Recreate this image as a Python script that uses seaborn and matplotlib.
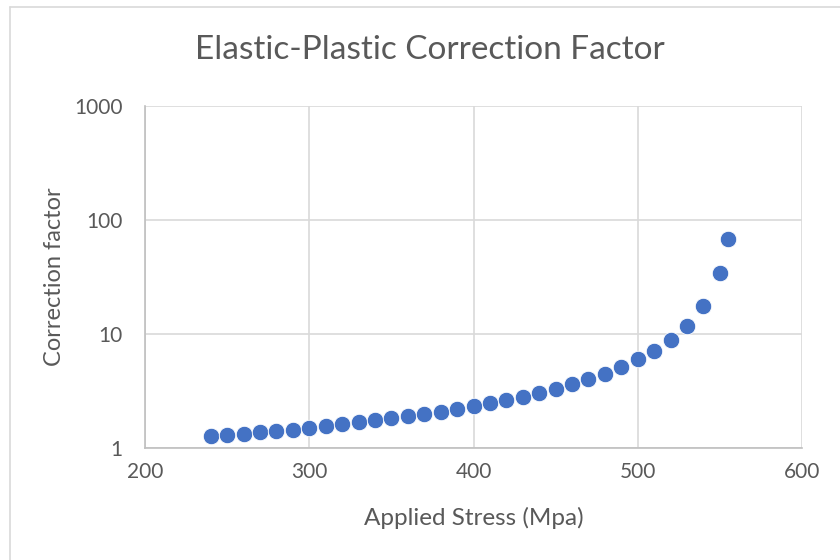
import matplotlib
matplotlib.use("Agg")
import matplotlib.pyplot as plt
import seaborn as sns
import pandas as pd
from matplotlib.lines import Line2D

stress = [240, 250, 260, 270, 280, 290, 300, 310, 320, 330, 340, 350, 360, 370,
          380, 390, 400, 410, 420, 430, 440, 450, 460, 470, 480, 490, 500, 510,
          520, 530, 540, 550, 555]
factor = [1.27, 1.30, 1.33, 1.38, 1.41, 1.44, 1.50, 1.56, 1.62, 1.69, 1.76, 1.83,
          1.91, 1.99, 2.07, 2.20, 2.33, 2.48, 2.63, 2.80, 3.04, 3.29, 3.64, 4.03,
          4.45, 5.13, 6.0, 7.1, 8.9, 11.7, 17.6, 34.3, 68.0]
x_ticks = [200, 300, 400, 500, 600]
y_ticks = [1, 10, 100, 1000]
y_tick_labels = ["1", "10", "100", "1000"]

df = pd.DataFrame({"stress": stress, "factor": factor})

sns.set_style("white")
plt.rcParams['font.family'] = ['Lato', 'DejaVu Sans']

fig = plt.figure(figsize=(8.4, 5.6), dpi=100)
ax = fig.add_axes([145/840, 1-448/560, (802-145)/840, (448-106)/560])

sns.scatterplot(data=df, x="stress", y="factor", ax=ax, color="#4472C4",
                s=140, edgecolor="white", linewidth=0.6, zorder=3, legend=False)

ax.set_yscale("log")
ax.set_xlim(200, 600)
ax.set_ylim(1, 1000)
ax.set_xticks(x_ticks)
ax.set_yticks(y_ticks)
ax.set_yticklabels(y_tick_labels)
ax.minorticks_off()
ax.grid(True, color="#d9d9d9", linewidth=1.2, zorder=0)
ax.set_axisbelow(True)
for side in ["top", "right"]:
    ax.spines[side].set_visible(False)
for side in ["left", "bottom"]:
    ax.spines[side].set_color("#bfbfbf")
    ax.spines[side].set_linewidth(1.2)
ax.tick_params(axis="both", length=0, labelsize=15, colors="#595959")
ax.tick_params(axis="y", pad=16)
ax.tick_params(axis="x", pad=10)

ax.set_xlabel("Applied Stress (Mpa)", fontsize=17.5, color="#595959", labelpad=18)
ax.set_ylabel("Correction factor", fontsize=17, color="#595959", labelpad=7)
fig.text(430/840, 1-50/560, "Elastic-Plastic Correction Factor", ha="center",
         va="center", fontsize=24, color="#595959")

# outer chart border (top and left visible)
fig.add_artist(Line2D([10/840, 1], [1-7/560, 1-7/560], transform=fig.transFigure,
                      color="#d9d9d9", linewidth=1.2))
fig.add_artist(Line2D([10/840, 10/840], [0, 1-7/560], transform=fig.transFigure,
                      color="#d9d9d9", linewidth=1.2))

fig.savefig("out.png", dpi=100, facecolor="white")
